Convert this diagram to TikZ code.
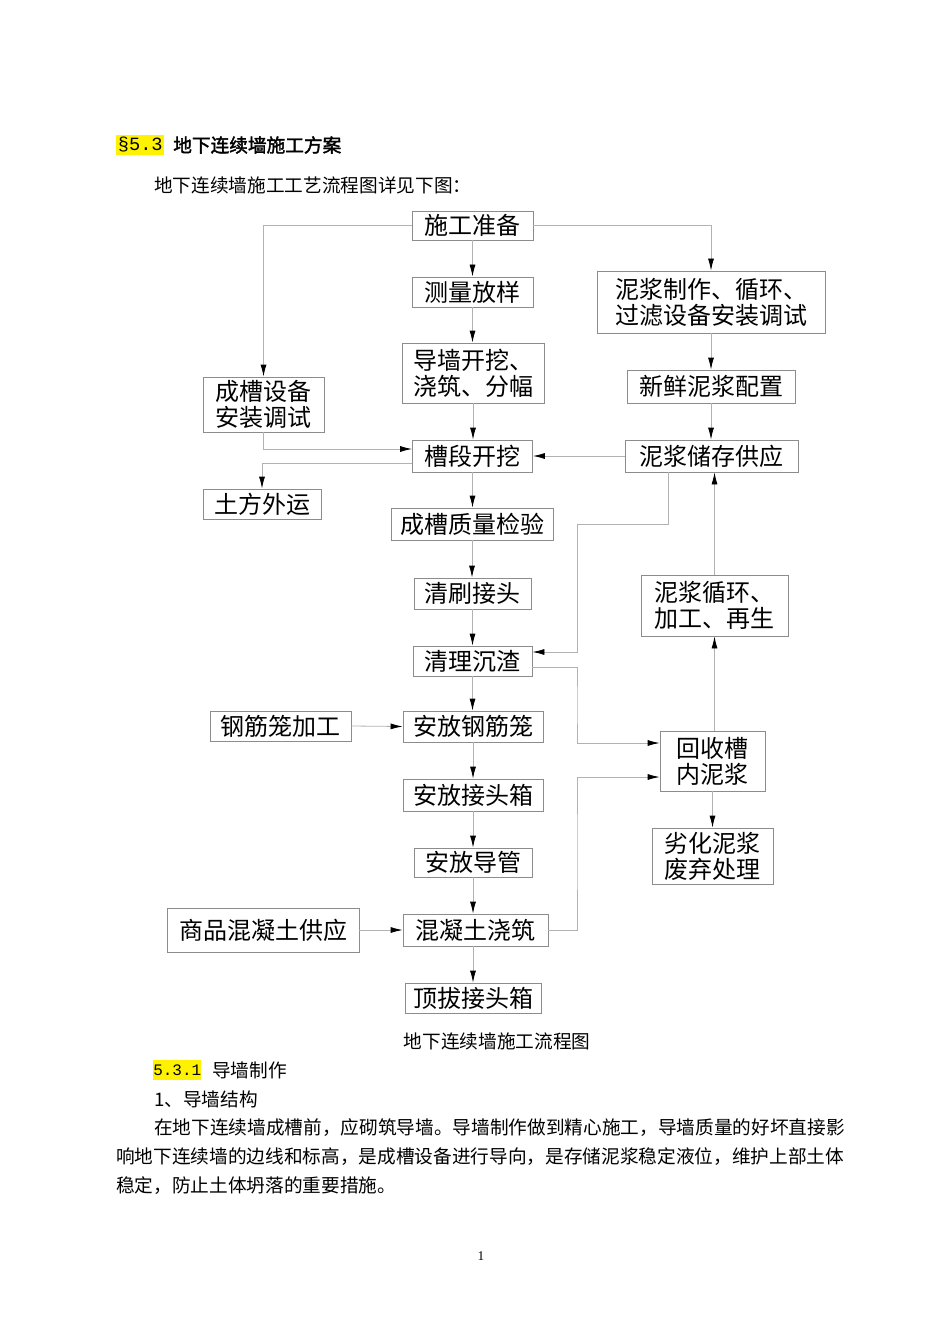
\documentclass[tikz,border=0pt]{standalone}
\usepackage{fontspec}
\setmainfont{Noto Sans CJK SC}
\newfontfamily\cjkbold{Noto Sans CJK SC}[FakeBold=2]
\newfontfamily\numfont{Liberation Mono}
\newfontfamily\pagefont{Liberation Serif}
\usetikzlibrary{arrows.meta}

\begin{document}
\begin{tikzpicture}[x=0.75pt,y=-0.75pt,
        stagebox/.style={draw=black!45,line width=0.6pt,inner sep=0pt,align=center,font=\fontsize{18}{19.5}\selectfont},
        boxsize/.style 2 args={minimum width=#1*0.75pt,minimum height=#2*0.75pt},
        flow/.style={draw=black!30,line width=0.6pt,-{Latex[color=black,length=9pt,width=4.5pt]}},
        bodytext/.style={anchor=west,inner sep=0pt,font=\fontsize{14}{16}\selectfont},
        marker/.style={fill=yellow,inner sep=0pt,anchor=west}]
        \useasboundingbox (0,0) rectangle (950,1344);%
        \node[marker,boxsize={48}{20},font=\fontsize{14}{16}\numfont] (secmark) at (116,145) {§5.3};%
        \node[bodytext,font=\fontsize{14}{16}\cjkbold] (sectitle) at (173,145) {地下连续墙施工方案};%
        \node[bodytext] (intro) at (154,185) {地下连续墙施工工艺流程图详见下图：};%
        \node[stagebox,boxsize={121}{29}] (prep) at (472.5,225.5) {施工准备};%
        \node[stagebox,boxsize={121}{30}] (survey) at (472.5,292) {测量放样};%
        \node[stagebox,boxsize={142}{60}] (guide) at (473,373) {导墙开挖、\\浇筑、分幅};%
        \node[stagebox,boxsize={228}{62}] (mixer) at (711,302) {泥浆制作、循环、\\过滤设备安装调试};%
        \node[stagebox,boxsize={168}{33}] (fresh) at (711,386.5) {新鲜泥浆配置};%
        \node[stagebox,boxsize={121}{55}] (rig) at (263.5,404.5) {成槽设备\\安装调试};%
        \node[stagebox,boxsize={120}{32}] (dig) at (472.5,456) {槽段开挖};%
        \node[stagebox,boxsize={173}{32}] (store) at (711.5,456) {泥浆储存供应};%
        \node[stagebox,boxsize={118}{30}] (soil) at (262,504) {土方外运};%
        \node[stagebox,boxsize={162}{32}] (check) at (472,524) {成槽质量检验};%
        \node[stagebox,boxsize={117}{31}] (joint) at (472.5,593.5) {清刷接头};%
        \node[stagebox,boxsize={147}{61}] (recyc) at (714.5,605.5) {泥浆循环、\\加工、再生};%
        \node[stagebox,boxsize={119}{30}] (clean) at (472.5,661) {清理沉渣};%
        \node[stagebox,boxsize={141}{30}] (cagemk) at (280.5,726) {钢筋笼加工};%
        \node[stagebox,boxsize={140}{31}] (cage) at (473,726.5) {安放钢筋笼};%
        \node[stagebox,boxsize={105}{60}] (recov) at (712.5,761) {回收槽\\内泥浆};%
        \node[stagebox,boxsize={140}{32}] (endbox) at (473,795) {安放接头箱};%
        \node[stagebox,boxsize={121}{56}] (waste) at (712.5,856) {劣化泥浆\\废弃处理};%
        \node[stagebox,boxsize={118}{29}] (tube) at (473,862.5) {安放导管};%
        \node[stagebox,boxsize={192}{44}] (concrete) at (263,930) {商品混凝土供应};%
        \node[stagebox,boxsize={145}{32}] (pour) at (475.5,930) {混凝土浇筑};%
        \node[stagebox,boxsize={136}{30}] (pull) at (473,998) {顶拔接头箱};%
        \draw[flow] (prep.west) -| (rig.north);%
        \draw[flow] (prep.east) -| (mixer.north);%
        \draw[flow] (prep.south) -- (prep.south |- survey.north);%
        \draw[flow] (survey.south) -- (survey.south |- guide.north);%
        \draw[flow] (guide.south) -- (guide.south |- dig.north);%
        \draw[flow] (dig.south) -- (dig.south |- check.north);%
        \draw[flow] (check.south) -- (check.south |- joint.north);%
        \draw[flow] (joint.south) -- (joint.south |- clean.north);%
        \draw[flow] (clean.south) -- (clean.south |- cage.north);%
        \draw[flow] (cage.south) -- (cage.south |- endbox.north);%
        \draw[flow] (endbox.south) -- (endbox.south |- tube.north);%
        \draw[flow] (tube.south) -- (tube.south |- pour.north);%
        \draw[flow] (pour.south -| tube.south) -- (tube.south |- pull.north);%
        \draw[flow] (mixer.south) -- (mixer.south |- fresh.north);%
        \draw[flow] (fresh.south) -- (fresh.south |- store.north);%
        \draw[flow] (rig.south) |- ([yshift=5.25pt]dig.west);%
        \draw[flow] ([yshift=-5.25pt]dig.west) -| (soil.north);%
        \draw[flow] (store.west) -- (dig.east);%
        \draw[flow] ([xshift=-32.6pt]store.south) |- (577,524) |- ([yshift=6.75pt]clean.east);%
        \draw[flow] (recyc.north) -- (recyc.north |- store.south);%
        \draw[flow] ([yshift=-4.5pt]clean.east) -| (577,705) |- ([yshift=13.5pt]recov.west);%
        \draw[flow] (pour.east) -| (577,850) |- ([yshift=-12pt]recov.west);%
        \draw[flow] (recov.north -| recyc.south) -- (recyc.south);%
        \draw[flow] (recov.south) -- (recov.south |- waste.north);%
        \draw[flow] (cagemk.east) -- (cage.west);%
        \draw[flow] (concrete.east) -- (pour.west);%
        \node[font=\fontsize{14}{16}\selectfont,inner sep=0pt] (caption) at (497,1041) {地下连续墙施工流程图};%
        \node[marker,boxsize={48}{20},font=\fontsize{12}{14}\numfont] (subsecmark) at (153,1070) {5.3.1};%
        \node[bodytext] (subsectitle) at (212,1070) {导墙制作};%
        \node[bodytext] (item) at (154,1099) {1、导墙结构};%
        \node[bodytext] (paraone) at (154,1128) {在地下连续墙成槽前，应砌筑导墙。导墙制作做到精心施工，导墙质量的好坏直接影};%
        \node[bodytext] (paratwo) at (116,1157) {响地下连续墙的边线和标高，是成槽设备进行导向，是存储泥浆稳定液位，维护上部土体};%
        \node[bodytext] (parathree) at (116,1186) {稳定，防止土体坍落的重要措施。};%
        \node[font=\fontsize{10}{12}\pagefont,inner sep=0pt] (pagenum) at (481,1256) {1};%
      \end{tikzpicture}
\end{document}
